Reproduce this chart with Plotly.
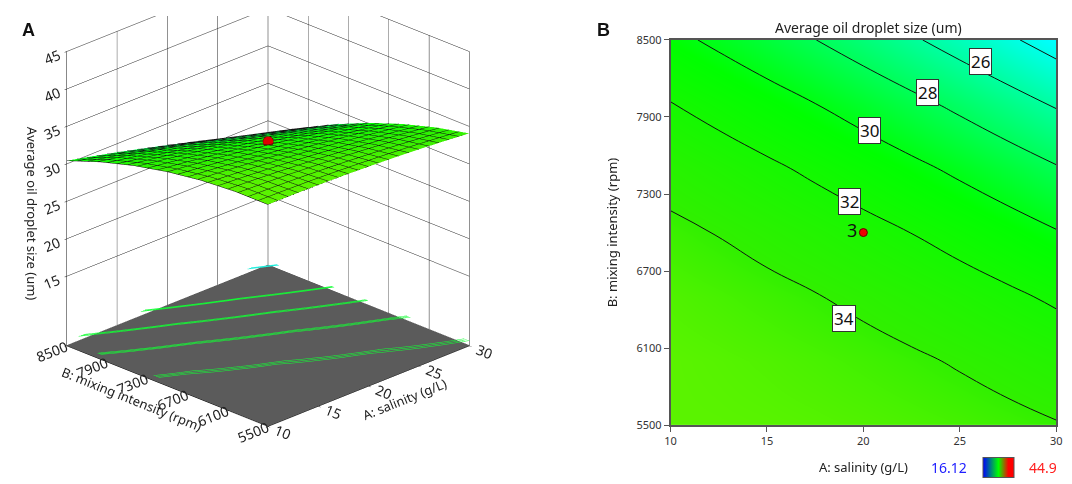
import numpy as np
import plotly.graph_objects as go

# A: salinity (g/L), B: mixing intensity (rpm), response: average oil droplet size (um)
salinity = [10, 12.5, 15, 17.5, 20, 22.5, 25, 27.5, 30]
mixing = [5500, 6000, 6500, 7000, 7500, 8000, 8500]
droplet = [
    [35.33, 35.31, 35.26, 35.16, 35.02, 34.84, 34.63, 34.37, 34.08],
    [35.32, 35.18, 35.00, 34.77, 34.51, 34.21, 33.87, 33.49, 33.08],
    [34.99, 34.72, 34.41, 34.07, 33.68, 33.26, 32.79, 32.29, 31.75],
    [34.33, 33.94, 33.51, 33.04, 32.53, 31.98, 31.39, 30.77, 30.10],
    [33.36, 32.84, 32.29, 31.69, 31.06, 30.38, 29.67, 28.92, 28.13],
    [32.06, 31.42, 30.74, 30.02, 29.26, 28.46, 27.63, 26.75, 25.84],
    [30.43, 29.67, 28.87, 28.02, 27.14, 26.22, 25.26, 24.26, 23.22],
]
design_a = [20]
design_b = [7000]
design_y = [33.0]
design_label = ["3"]

levels = [24, 26, 28, 30, 32, 34]
label_levels = [26, 28, 30, 32, 34]
label_a = [26.1, 23.3, 20.3, 19.3, 19.0]
label_b = [8334, 8090, 7794, 7240, 6333]

zlo, zhi = 16.12, 44.9
cs = [[0, "#0000ff"], [0.25, "#00ffff"], [0.5, "#00ff00"], [0.62, "#30f000"],
      [0.85, "#ffff00"], [1, "#ff0000"]]
bar_cs = [[0, "#0000ff"], [0.5, "#00ff00"], [0.82, "#ff0000"], [1, "#ff0000"]]
FONT = "Noto Sans"

Z = np.array(droplet)
floor_z = 5.8
eps = 0.01
base = floor_z + 0.25

fig = go.Figure()

# response surface with black mesh
fig.add_trace(go.Surface(
    x=salinity, y=mixing, z=Z, colorscale=cs, cmin=zlo, cmax=zhi, showscale=False,
    lighting=dict(ambient=0.9, diffuse=0.25, specular=0.02, roughness=1),
    contours=dict(
        x=dict(show=True, start=10, end=30, size=1, color="#111", width=1, highlight=False),
        y=dict(show=True, start=5500, end=8500, size=150, color="#111", width=1, highlight=False),
        z=dict(highlight=False)),
    hoverinfo="skip", scene="scene"))

# grey floor
fig.add_trace(go.Surface(
    x=salinity, y=mixing, z=np.full_like(Z, floor_z),
    colorscale=[[0, "#5b5b5b"], [1, "#5b5b5b"]], showscale=False,
    lighting=dict(ambient=1, diffuse=0, specular=0, fresnel=0),
    contours=dict(x=dict(highlight=False), y=dict(highlight=False), z=dict(highlight=False)),
    hoverinfo="skip", scene="scene"))

# contour lines projected on the floor (cyan for low levels, green for the rest);
# three close copies of each level make the line look thicker
first = True
for lv0, lv1, col in [(levels[0], levels[1], "#22eedd"), (levels[2], levels[-1], "#11ff33")]:
    for off in (-0.07, 0.0, 0.07):
        fig.add_trace(go.Surface(
            x=salinity, y=mixing, z=base + eps * Z, hidesurface=True,
            colorscale=bar_cs, cmin=base + eps * zlo, cmax=base + eps * zhi,
            showscale=first,
            colorbar=dict(orientation="h", x=0.9287, xanchor="center", y=0.037,
                          yanchor="middle", len=51, lenmode="pixels", thickness=20,
                          showticklabels=False, ticks="", outlinewidth=1, outlinecolor="#555"),
            contours=dict(z=dict(show=True, start=base + eps * (lv0 + off),
                                 end=base + eps * (lv1 + off), size=eps * 2,
                                 color=col, width=2, highlight=False),
                          x=dict(highlight=False), y=dict(highlight=False)),
            hoverinfo="skip", scene="scene"))
        first = False

fig.add_trace(go.Scatter3d(
    x=design_a, y=design_b, z=design_y, mode="markers",
    marker=dict(size=6, color="#e00000", line=dict(color="#700000", width=1)),
    hoverinfo="skip", scene="scene"))

# contour panel
fig.add_trace(go.Contour(
    x=salinity, y=mixing, z=Z, colorscale=cs, zmin=zlo, zmax=zhi, showscale=False,
    contours=dict(start=levels[0], end=levels[-1], size=2, coloring="heatmap"),
    line=dict(color="#111", width=1, smoothing=1.3),
    hoverinfo="skip", xaxis="x", yaxis="y"))

fig.add_trace(go.Scatter(
    x=design_a, y=design_b, mode="markers+text", text=design_label,
    textposition="middle left", textfont=dict(size=18, color="#111"),
    marker=dict(size=8, color="#ee0000", line=dict(color="#600", width=1)),
    hoverinfo="skip", showlegend=False, xaxis="x", yaxis="y"))

ann = []
for lv, a, b in zip(label_levels, label_a, label_b):
    ann.append(dict(x=a, y=b, xref="x", yref="y", text=str(lv), showarrow=False,
                    font=dict(size=17, color="#111"), bgcolor="white",
                    bordercolor="#333", borderwidth=1, borderpad=1))
ann += [
    dict(x=0.006, y=0.995, xref="paper", yref="paper", text="<b>A</b>", showarrow=False,
         font=dict(size=18, color="#111", family="Liberation Sans"), xanchor="left", yanchor="top"),
    dict(x=0.548, y=0.995, xref="paper", yref="paper", text="<b>B</b>", showarrow=False,
         font=dict(size=18, color="#111", family="Liberation Sans"), xanchor="left", yanchor="top"),
    dict(x=0.806, y=0.999, xref="paper", yref="paper", text="Average oil droplet size (um)",
         showarrow=False, font=dict(size=14, color="#222"), xanchor="center", yanchor="top"),
    dict(x=0.901, y=0.037, xref="paper", yref="paper", text="16.12", showarrow=False,
         font=dict(size=14, color="#2020ff"), xanchor="right", yanchor="middle"),
    dict(x=0.956, y=0.037, xref="paper", yref="paper", text="44.9", showarrow=False,
         font=dict(size=14, color="#ff2020"), xanchor="left", yanchor="middle"),
]

ax3 = dict(showbackground=True, backgroundcolor="white", gridcolor="#222", gridwidth=1,
           showline=True, linecolor="#111", linewidth=1, ticks="outside", tickcolor="#111",
           ticklen=3, showspikes=False, tickfont=dict(size=13, color="#222"),
           zeroline=False)

fig.update_layout(
    width=1072, height=484, margin=dict(l=0, r=0, t=0, b=0),
    paper_bgcolor="white", plot_bgcolor="white", showlegend=False,
    font=dict(family=FONT, color="#222"),
    scene=dict(
        domain=dict(x=[0, 0.5], y=[0, 1]),
        xaxis=dict(ax3, title=dict(text="A: salinity (g/L)", font=dict(size=13)),
                   range=[10, 30], tickvals=[10, 15, 20, 25, 30]),
        yaxis=dict(ax3, title=dict(text="B: mixing intensity (rpm)", font=dict(size=13)),
                   range=[5500, 8500], tickvals=[5500, 6100, 6700, 7300, 7900, 8500]),
        zaxis=dict(ax3, title=dict(text="Average oil droplet size (um)", font=dict(size=13)),
                   range=[floor_z - 0.1, 45], tickvals=[15, 20, 25, 30, 35, 40, 45],
                   backgroundcolor="#5b5b5b"),
        aspectmode="manual", aspectratio=dict(x=1.214, y=1.214, z=1.37),
        camera=dict(eye=dict(x=-1.117, y=-1.183, z=0.470),
                    center=dict(x=0.033, y=-0.033, z=-0.241),
                    up=dict(x=0, y=0, z=1), projection=dict(type="orthographic")),
    ),
    xaxis=dict(domain=[0.6194, 0.9832], range=[10, 30], tickvals=[10, 15, 20, 25, 30],
               ticks="outside", ticklen=5, tickcolor="#555", showline=True, linecolor="#555",
               linewidth=1.5, mirror=True, showgrid=False, zeroline=False,
               tickfont=dict(size=11, color="#333"),
               title=dict(text="A: salinity (g/L)", font=dict(size=13), standoff=16)),
    yaxis=dict(domain=[0.1275, 0.949], range=[5500, 8500],
               tickvals=[5500, 6100, 6700, 7300, 7900, 8500],
               ticks="outside", ticklen=5, tickcolor="#555", showline=True, linecolor="#555",
               linewidth=1.5, mirror=True, showgrid=False, zeroline=False,
               tickfont=dict(size=11, color="#333"),
               title=dict(text="B: mixing intensity (rpm)", font=dict(size=13), standoff=16)),
    annotations=ann,
)

fig.write_html("out.html")
